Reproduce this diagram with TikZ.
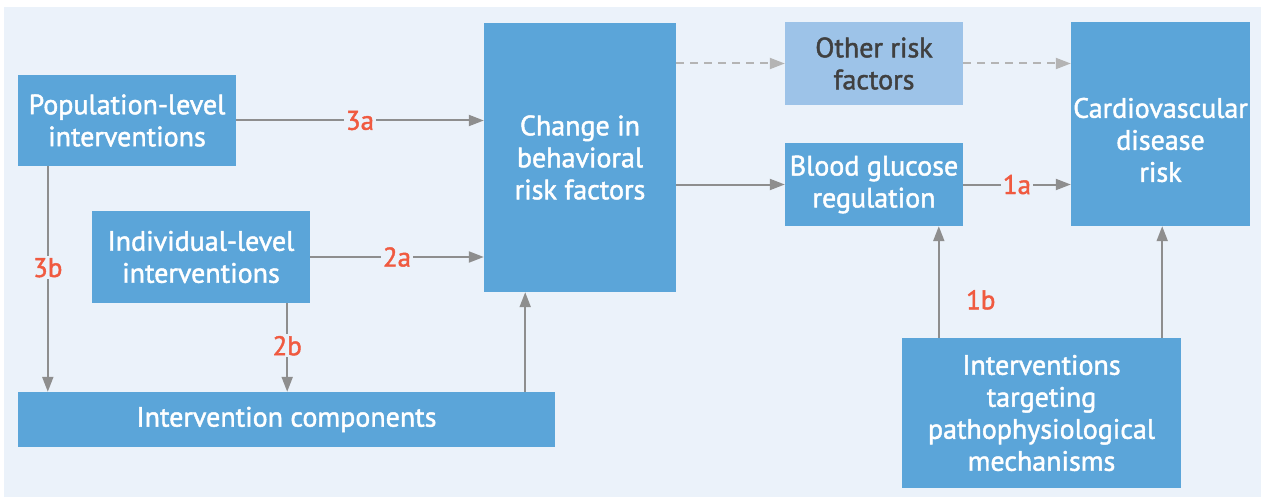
\documentclass[tikz,border=0pt]{standalone}
\usepackage{fontspec}
\setmainfont{PT Sans}
\newfontfamily\bxfont{PT Sans}[FakeBold=1.6]
\usetikzlibrary{arrows.meta}
\definecolor{boxblue}{HTML}{5BA5D9}
\definecolor{lightbox}{HTML}{9DC3E8}
\definecolor{panel}{HTML}{EBF2FA}
\definecolor{arrgray}{HTML}{8E8E8E}
\definecolor{dashgray}{HTML}{B4B4B4}
\definecolor{lblred}{HTML}{F05A40}
\definecolor{darktext}{HTML}{404040}
\tikzset{
  bxfont/.style={font=\bxfont\fontsize{28}{32}\selectfont},
  bx/.style={fill=boxblue, text=white, align=center, inner sep=0pt, bxfont},
  lbx/.style={bx, fill=lightbox, text=darktext},
  txt/.style={text=white, align=center, inner sep=0pt, bxfont},
  arr/.style={draw=arrgray, line width=2pt, -{Triangle[length=15pt,width=11pt]}},
  darr/.style={draw=dashgray, line width=2pt, dash pattern=on 8pt off 6pt, -{Triangle[length=15pt,width=11pt]}},
  lbl/.style={text=lblred, fill=panel, inner sep=2pt, font=\bxfont\fontsize{27}{30}\selectfont},
}
\begin{document}
\begin{tikzpicture}[x=1pt,y=-1pt]
\useasboundingbox (0,0) rectangle (1264,500);
\fill[white] (0,0) rectangle (1264,500);
\fill[panel] (4,7) rectangle (1261,497);

\node[bx, minimum width=218pt, minimum height=91pt] (pop) at (127,120.5) {Population-level\\interventions};
\node[bx, minimum width=218pt, minimum height=92pt] (ind) at (201,257) {Individual-level\\interventions};
\node[bx, minimum width=537pt, minimum height=55pt] (ic) at (286.5,419.5) {Intervention components};
\node[bx, minimum width=192pt, minimum height=269pt] (chg) at (580,157.5) {Change in\\behavioral\\risk factors};
\node[lbx, minimum width=178pt, minimum height=83pt] (oth) at (874,63.5) {Other risk\\factors};
\node[bx, minimum width=178pt, minimum height=83pt] (bgr) at (874,184.5) {Blood glucose\\regulation};
\node[bx, minimum width=179pt, minimum height=204pt] (cvd) at (1160.5,124) {};
\node[txt] (cvdt) at (1160.5,140) {Cardiovascular\\disease\\risk};
\node[bx, minimum width=279pt, minimum height=150pt] (itp) at (1041.5,413) {Interventions\\targeting\\pathophysiological\\mechanisms};

% left side
\draw[arr] (pop.east) -- (pop.east -| chg.west) node[lbl, midway] {3a};
\draw[arr] (ind.east) -- (ind.east -| chg.west) node[lbl, midway] {2a};
\draw[arr] ([xshift=30pt]pop.south west) -- ([xshift=30pt]pop.south west |- ic.north) node[lbl, pos=0.45] {3b};
\draw[arr] ([xshift=-23pt]ind.south east) -- ([xshift=-23pt]ind.south east |- ic.north) node[lbl, pos=0.48] {2b};
\draw[arr] ([xshift=-30pt]ic.north east) -- ([xshift=-30pt]ic.north east |- chg.south);

% middle
\draw[arr] (chg.east |- bgr.west) -- (bgr.west);
\draw[darr] (chg.east |- oth.west) -- (oth.west);
\draw[darr] (oth.east) -- (oth.east -| cvd.west);
\draw[arr] (bgr.east) -- (bgr.east -| cvd.west) node[lbl, midway] {1a};

% right
\draw[arr] ([xshift=37pt]itp.north west) -- ([xshift=37pt]itp.north west |- bgr.south) node[lbl, pos=0.34, xshift=42pt] {1b};
\draw[arr] ([xshift=-19pt]itp.north east) -- ([xshift=-19pt]itp.north east |- cvd.south);
\end{tikzpicture}
\end{document}
